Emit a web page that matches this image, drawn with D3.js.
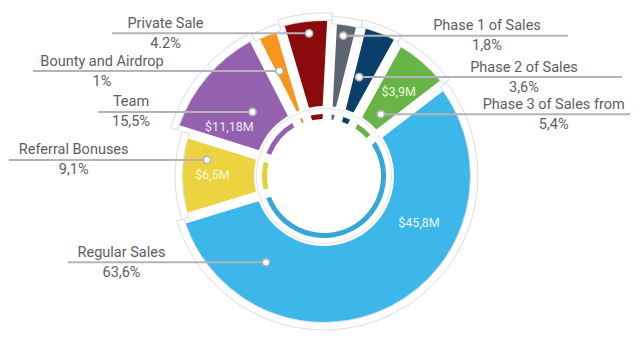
<!DOCTYPE html>
<html><head><meta charset="utf-8">
<script src="https://cdn.jsdelivr.net/npm/d3@7"></script>
<style>
html,body{margin:0;padding:0;background:#fff;}
svg{display:block;font-family:Roboto,"Open Sans",sans-serif;}
</style>
</head><body>
<svg id="chart" width="640" height="342"></svg>
<script>
// ---- data ----
const categories = ["Regular Sales","Referral Bonuses","Team","Bounty and Airdrop","Private Sale","Phase 1 of Sales","Phase 2 of Sales","Phase 3 of Sales from"];
const percentLabels = ["63,6%","9,1%","15,5%","1%","4.2%","1,8%","3,6%","5,4%"];
const amountLabels = ["$45,8M","$6,5M","$11,18M","","","","","$3,9M"];
// relative slice sizes as drawn in the reference (angular share)
const arcShares = [200.5,34.5,45.5,10.5,19.5,11,15,23.5];

// ---- styles / layout ----
const colors = ["#3db6ea","#ebd43f","#9461af","#f7961d","#8b0a0c","#5d6670","#0c3e6b","#68b446"];
const ringColors = ["#35a7da","#e6cf3c","#9461af","#f7961d","#8b0a0c","#5d6670","#0c3e6b","#68b446"];
const amountColors = ["#eaf6fd","#fbf6dc","#f1e7f7","","","","","#e9fbd9"];
const outerR = [146,141,153,151,155,152,153,150];
const dotPos = [[0.805,104],[0.72,118],[0.536,96],[0.38,114],[0.54,143.5],[0.44,141.6],[0.37,105],[0.58,84]];
const amountPos = [[0.318,106],[0.52,111.5],[0.226,107],null,null,null,null,[0.528,113]];
const labelLayout = [
  {side:"left", textX:121.5, lineX:68},
  {side:"left", textX:73.7, lineX:9},
  {side:"left", textX:131, lineX:98},
  {side:"left", textX:102, lineX:33},
  {side:"left", textX:165.5, lineX:112},
  {side:"right", textX:487, lineX:568},
  {side:"right", textX:524, lineX:622},
  {side:"right", textX:553.7, lineX:630}
];
const cx = 324, cy = 176;
const innerR = 70;

const svg = d3.select("#chart");
const g = svg.append("g").attr("transform", `translate(${cx},${cy})`);

const start = 52.5 * Math.PI / 180;
const pie = d3.pie().sort(null).value(d => d).startAngle(start).endAngle(start + 2 * Math.PI);
const arcs = pie(arcShares).map((d, i) => Object.assign({}, d, {i, r: outerR[i]}));

// plates (white, thin gray outline) behind each slice
const plateArc = d3.arc().innerRadius(d => d.r + 0.5).outerRadius(d => d.r + 8);
g.selectAll("path.plate").data(arcs).join("path")
  .attr("class", "plate")
  .attr("d", plateArc)
  .attr("fill", "#fff")
  .attr("stroke", "#d3d3d8")
  .attr("stroke-width", 0.8);

// faint circle around inner area
g.append("circle").attr("r", 67.5).attr("fill", "#fff").attr("stroke", "#dcdce0").attr("stroke-width", 0.8);

// inner thin ring
const ringArc = d3.arc().innerRadius(57).outerRadius(62).padAngle(0.105);
g.selectAll("path.ring").data(arcs).join("path")
  .attr("class", "ring")
  .attr("d", ringArc)
  .attr("fill", d => ringColors[d.i]);

// main slices
const mainArc = d3.arc().innerRadius(innerR).outerRadius(d => d.r).padAngle(0.1).padRadius(100);
g.selectAll("path.slice").data(arcs).join("path")
  .attr("class", "slice")
  .attr("d", mainArc)
  .attr("fill", d => colors[d.i]);

function polar(d, frac, r) {
  const a = d.startAngle + frac * (d.endAngle - d.startAngle);
  return [r * Math.sin(a), -r * Math.cos(a)];
}

// amount labels inside slices
arcs.forEach(d => {
  const p = amountPos[d.i];
  if (!p || !amountLabels[d.i]) return;
  const [x, y] = polar(d, p[0], p[1]);
  g.append("text").attr("x", x).attr("y", y).attr("dy", "0.35em")
    .attr("text-anchor", "middle")
    .attr("font-size", 12.5)
    .attr("fill", amountColors[d.i])
    .text(amountLabels[d.i]);
});

// leader lines, dots, labels
const lab = svg.append("g");
arcs.forEach(d => {
  const [dx, dy] = polar(d, dotPos[d.i][0], dotPos[d.i][1]);
  const px = cx + dx, py = cy + dy;
  const L = labelLayout[d.i];
  lab.append("line")
    .attr("x1", L.lineX).attr("x2", px)
    .attr("y1", py).attr("y2", py)
    .attr("stroke", "#b4b4b8").attr("stroke-width", 2);
  lab.append("circle").attr("cx", px).attr("cy", py).attr("r", 3.6)
    .attr("fill", "#fff").attr("stroke", "#b4b4b8").attr("stroke-width", 1.6);
  lab.append("text").attr("x", L.textX).attr("y", py - 5.5)
    .attr("text-anchor", "middle").attr("font-size", 14.5).attr("fill", "#5e5e5e")
    .text(categories[d.i]);
  lab.append("text").attr("x", L.textX).attr("y", py + 14.5)
    .attr("text-anchor", "middle").attr("font-size", 14.5).attr("fill", "#5e5e5e")
    .text(percentLabels[d.i]);
});
</script>
</body></html>
